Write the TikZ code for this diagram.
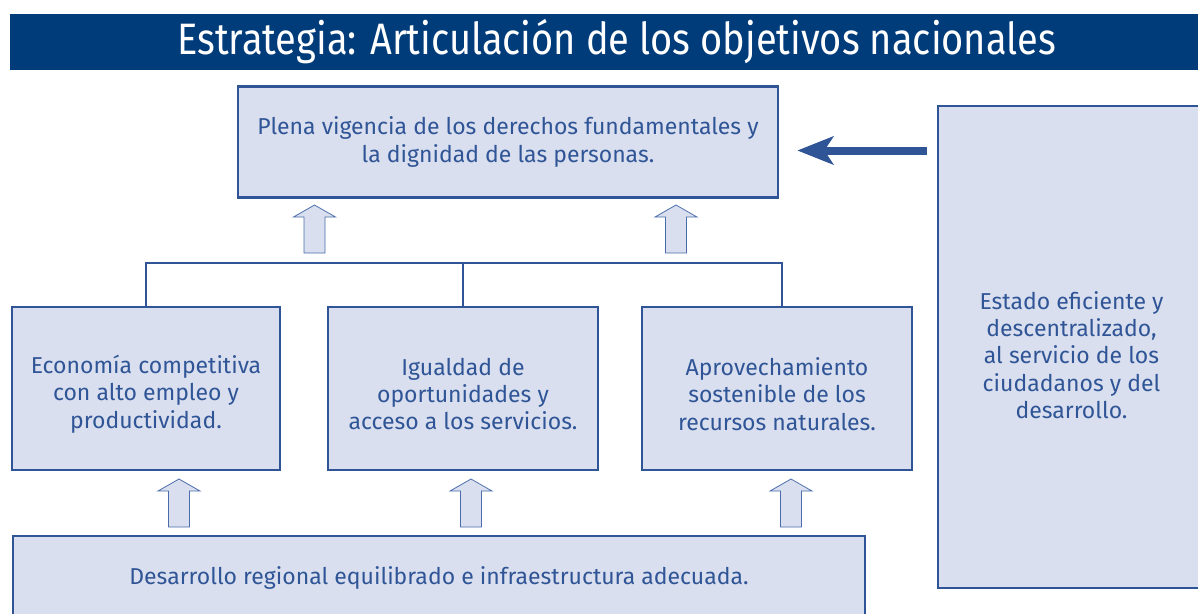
\documentclass[tikz,border=0pt]{standalone}
\usepackage{fontspec}
\setmainfont{Fira Sans}
\newfontfamily\titlefont[FakeStretch=0.864]{Fira Sans}
\usetikzlibrary{arrows.meta,calc}
\definecolor{barblue}{HTML}{003B7A}
\definecolor{lineblue}{HTML}{2F5597}
\definecolor{boxfill}{HTML}{D9DFEE}
\definecolor{arrline}{HTML}{4A6CAB}
\tikzset{
  box/.style={draw=lineblue, fill=boxfill, line width=2.6pt, inner sep=0pt, align=center,
    text=lineblue, font=\fontsize{23}{27.3}\selectfont},
  txt/.style={inner sep=0pt, align=center, text=lineblue, font=\fontsize{23}{27.3}\selectfont},
  conn/.style={draw=lineblue, line width=2.6pt},
  bigarrow/.style={draw=lineblue, line width=8pt, -{Stealth[length=36pt,width=28pt,inset=9pt]}},
  uparr/.pic={
    \path[fill=boxfill, draw=arrline, line width=0.8pt, line join=miter]
      (-10.5,0) -- (-10.5,-36) -- (-21,-36) -- (0,-48) -- (21,-36) -- (10.5,-36) -- (10.5,0) -- cycle;
  }
}
\begin{document}
\begin{tikzpicture}[x=1pt,y=-1pt]
\useasboundingbox (0,0) rectangle (1198,613);
% title bar
\node[fill=barblue, minimum width=1188pt, minimum height=56pt, inner sep=0pt, anchor=north west] (bar) at (10,14) {};
\node[text=white, font=\titlefont\fontsize{44}{50}\selectfont, inner sep=0pt] (title) at (616.5,42) {Estrategia: Articulación de los objetivos nacionales};
% boxes
\node[box, minimum width=540pt, minimum height=111pt] (top) at (508,142) {Plena vigencia de los derechos fundamentales y\\la dignidad de las personas.};
\node[box, minimum width=268pt, minimum height=163pt] (mid1) at (146,388.5) {};
\node[box, minimum width=270pt, minimum height=163pt] (mid2) at (463,388.5) {};
\node[box, minimum width=270pt, minimum height=163pt] (mid3) at (777,388.5) {};
\node[txt] (mid1t) at ($(mid1.center)+(0,5.5)$) {Economía competitiva\\con alto empleo y\\productividad.};
\node[txt] (mid2t) at ($(mid2.center)+(0,5.5)$) {Igualdad de\\oportunidades y\\acceso a los servicios.};
\node[txt] (mid3t) at ($(mid3.center)+(0,5.5)$) {Aprovechamiento\\sostenible de los\\recursos naturales.};
\node[box, minimum width=852pt, minimum height=84pt] (bottom) at (439,578) {Desarrollo regional equilibrado e infraestructura adecuada.};
\node[box, minimum width=267pt, minimum height=482pt] (right) at (1071.5,347) {};
\node[txt] (rightt) at ($(right.center)+(0,8)$) {Estado eficiente y\\descentralizado,\\al servicio de los\\ciudadanos y del\\desarrollo.};
% connectors
\coordinate (bus) at (464,263);
\draw[conn] (mid1.north) |- ([xshift=5pt]mid3.north |- bus) -- ([xshift=5pt]mid3.north);
\draw[conn] (mid2.north) -- (mid2.north |- bus);
% block arrows
\pic at (314.5,253) {uparr};
\pic at (676,253) {uparr};
\pic at (179,527) {uparr};
\pic at (471,527) {uparr};
\pic at (791,527) {uparr};
% big left arrow
\draw[bigarrow] ($(right.west |- top.east)+(-10,8.5)$) -- ($(top.east)+(18,8.5)$);
\end{tikzpicture}
\end{document}
